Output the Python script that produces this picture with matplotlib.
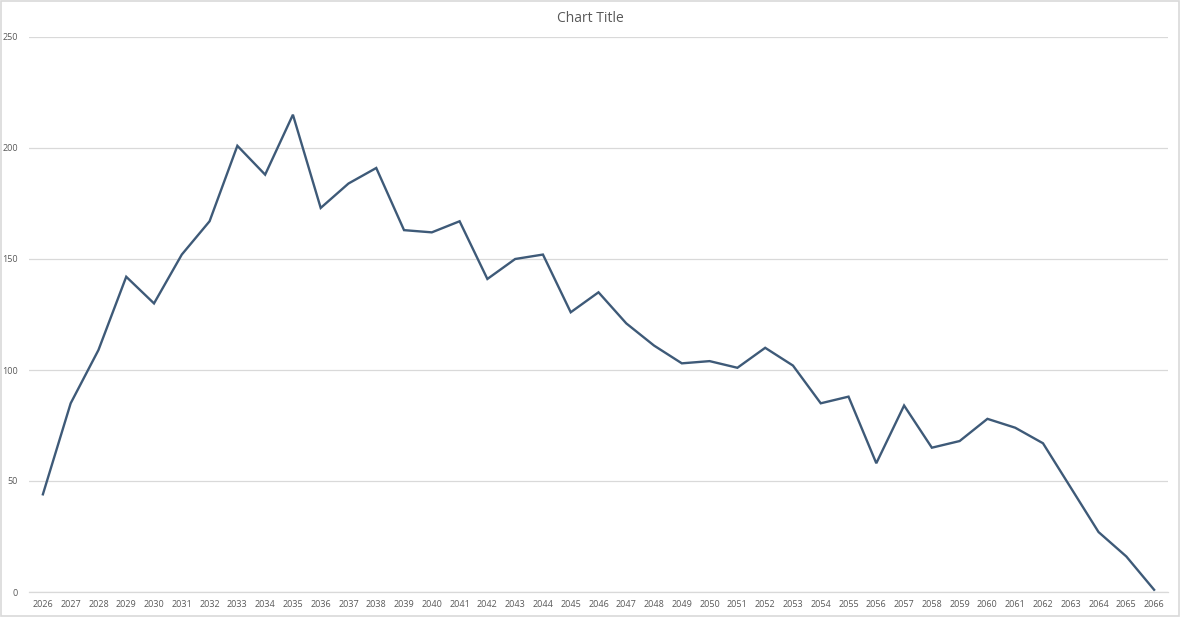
import matplotlib
matplotlib.use("Agg")
import matplotlib.pyplot as plt
from matplotlib.patches import Rectangle

years = [str(y) for y in range(2026, 2067)]
values = [44, 85, 109, 142, 130, 152, 167, 201, 188, 215,
          173, 184, 191, 163, 162, 167, 141, 150, 152, 126,
          135, 121, 111, 103, 104, 101, 110, 102, 85, 88,
          58, 84, 65, 68, 78, 74, 67, 47, 27, 16, 1]
yticks = [0, 50, 100, 150, 200, 250]

plt.rcParams['font.family'] = ['Open Sans', 'DejaVu Sans']

fig = plt.figure(figsize=(11.81, 6.17), dpi=100)
ax = fig.add_axes([29/1181, 1-592/617, (1168-29)/1181, (592-37)/617])

x = list(range(len(years)))
ax.plot(x, values, color='#3e5a78', linewidth=1.7, solid_joinstyle='miter')

ax.set_xlim(-0.5, len(years) - 0.5)
ax.set_ylim(0, 250)
ax.set_yticks(yticks)
ax.set_xticks(x)
ax.set_xticklabels(years)
ax.tick_params(axis='both', length=0, labelsize=6.5, labelcolor='#595959')
ax.tick_params(axis='x', pad=6)
ax.tick_params(axis='y', pad=8)
ax.grid(axis='y', color='#d9d9d9', linewidth=0.9)
ax.set_axisbelow(True)
for s in ['top', 'right', 'left']:
    ax.spines[s].set_visible(False)
ax.spines['bottom'].set_color('#d9d9d9')
ax.spines['bottom'].set_linewidth(0.9)

fig.text(0.5, 1-18/617, 'Chart Title', ha='center', va='center',
         fontsize=10, color='#595959')

fig.patches.append(Rectangle((0.0005, 0.001), 0.998, 0.997, transform=fig.transFigure,
                             fill=False, edgecolor='#d9d9d9', linewidth=1.2))

fig.savefig('out.png', dpi=100)
